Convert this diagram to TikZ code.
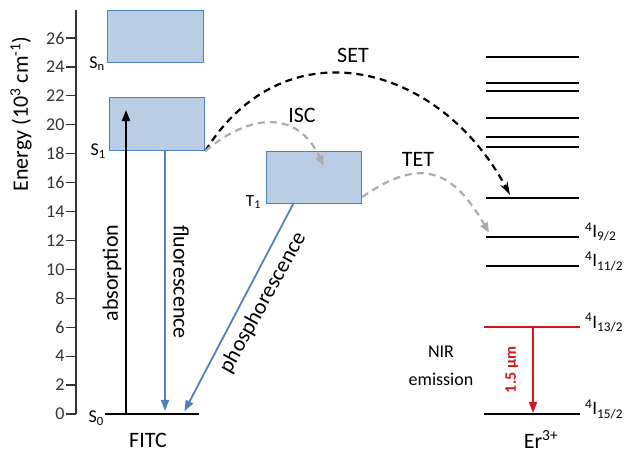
\documentclass[tikz,border=0pt]{standalone}
\usepackage{fontspec}
\setmainfont{Carlito}
\usetikzlibrary{positioning,arrows.meta}
\definecolor{boxFill}{RGB}{185,205,229}
\definecolor{boxEdge}{RGB}{79,129,189}
\definecolor{nirRed}{RGB}{210,22,30}
\definecolor{etGray}{RGB}{172,172,172}
\tikzstyle{tBox} = [rectangle, draw=boxEdge, fill=boxFill, line width=1.3pt, inner sep=0pt, anchor=south west, minimum width=95pt, minimum height=52pt]
\tikzstyle{tLevel} = [line width=2pt]
\tikzstyle{bigText} = [font=\fontsize{22}{26}\selectfont]
\tikzstyle{smallText} = [font=\fontsize{18}{20}\selectfont]
\tikzstyle{termText} = [font=\fontsize{19}{22}\selectfont, anchor=base west, inner sep=0pt]
\tikzstyle{radArrow} = [line width=1.8pt, -{Triangle[length=11pt,width=8pt]}]
\tikzstyle{etArrow} = [line width=2.2pt, dash pattern=on 7pt off 5pt]

\begin{document}
\begin{tikzpicture}[x=1pt, y=14.46pt]
    \useasboundingbox (0,-2.628) rectangle (630,28.63);
    \draw[line width=1.2pt, black!80] (76,0) -- (76,27.94);
    \foreach \e in {0,2,...,26}
        \draw[line width=1.2pt, black!80] (76,\e) -- (66,\e) node[smallText, left, inner sep=1pt] {\e};
    \node[bigText, rotate=90] (EnergyLabel) at (21,20.75) {Energy (10\textsuperscript{3} cm\textsuperscript{-1})};

    \node[tBox, minimum width=96pt] (Sn) at (107,24.27) {};
    \node[tBox, minimum height=53pt] (S1) at (109,18.19) {};
    \node[tBox] (T1) at (266,14.52) {};
    \draw[tLevel] (105,0) coordinate (S0w) -- (199,0) coordinate (S0e);
    \node[smallText, anchor=base east, inner sep=0pt] (SnLabel) at ([shift={(-2pt,-5pt)}]Sn.south west) {S\textsubscript{n}};
    \node[smallText, anchor=base east, inner sep=0pt] (S1Label) at ([shift={(-3pt,-5pt)}]S1.south west) {S\textsubscript{1}};
    \node[smallText, anchor=base east, inner sep=0pt] (S0Label) at ([shift={(-1pt,-9pt)}]S0w) {S\textsubscript{0}};
    \node[font=\fontsize{17}{20}\selectfont, anchor=base east, inner sep=0pt] (T1Label) at ([shift={(-5pt,-2pt)}]T1.south west) {T\textsubscript{1}};
    \node[bigText, inner sep=0pt] (FITC) at (148,-1.80) {FITC};

    \coordinate (AbsFoot) at (126,0);
    \coordinate (AbsTip) at (126,21.02);
    \draw[radArrow] (AbsFoot) -- (AbsTip);
    \coordinate (FluoTop) at ([xshift=56pt]S1.south west);
    \coordinate (FluoFoot) at (FluoTop |- S0w);
    \draw[radArrow, boxEdge, shorten >=3pt] (FluoTop) -- (FluoFoot);
    \draw[radArrow, boxEdge, shorten >=3pt] ([xshift=-21pt]T1.south) -- ([xshift=78pt]S0w);
    \node[bigText, rotate=90, inner sep=0pt] (AbsLabel) at (112,9.75) {absorption};
    \node[bigText, rotate=-90, inner sep=0pt] (FluoLabel) at (181,9.13) {fluorescence};
    \node[bigText, rotate=61, inner sep=0pt] (PhosLabel) at (263,7.7) {phosphorescence};

    \foreach \e [count=\i] in {24.70,22.87,22.36,20.45,19.14,18.49,14.92,12.26,10.25}
        \draw[tLevel] (486,\e) coordinate (Er\i w) -- (579,\e) coordinate (Er\i e);
    \draw[tLevel, nirRed] (484,6.0) coordinate (ErRw) -- (580,6.0) coordinate (ErRe);
    \draw[tLevel] (484,0) coordinate (ErGw) -- (580,0) coordinate (ErGe);
    \node[termText] (I92) at ([shift={(6pt,-1pt)}]Er8e) {\textsuperscript{4}I\textsubscript{9/2}};
    \node[termText] (I112) at ([shift={(6pt,-1pt)}]Er9e) {\textsuperscript{4}I\textsubscript{11/2}};
    \node[termText] (I132) at ([shift={(5pt,-1pt)}]ErRe) {\textsuperscript{4}I\textsubscript{13/2}};
    \node[termText] (I152) at ([shift={(5pt,-1pt)}]ErGe) {\textsuperscript{4}I\textsubscript{15/2}};
    \node[bigText, inner sep=0pt] (ErIon) at (541,-1.75) {Er\textsuperscript{3+}};
    \draw[radArrow, nirRed, shorten >=1pt] ([xshift=49pt]ErRw) -- ([xshift=49pt]ErGw);
    \node[font=\bfseries\fontsize{16}{18}\selectfont, text=nirRed, rotate=90] (NirWave) at (512,3.04) {1.5 μm};
    \node[font=\fontsize{18}{28}\selectfont, align=center] (NirLabel) at (441,3.32) {NIR\\emission};

    \coordinate (SetTip) at ([shift={(24pt,3.3pt)}]Er7w);
    \draw[etArrow, -{Stealth[length=13pt,width=8pt]}] (S1.south east) to[out=58, in=118, looseness=1.25] (SetTip);
    \draw[etArrow, etGray, -{Triangle[length=10pt,width=8pt]}] (S1.south east) to[out=40, in=115, looseness=1.3] ([shift={(9.5pt,-15pt)}]T1.north);
    \draw[etArrow, etGray, -{Triangle[length=10pt,width=8pt]}] ([yshift=7pt]T1.south east) to[out=35, in=120, looseness=1.4] ([shift={(3pt,4pt)}]Er8w);
    \node[bigText] (SetLabel) at (353,24.83) {SET};
    \node[bigText] (IscLabel) at (302,20.64) {ISC};
    \node[bigText] (TetLabel) at (418,17.6) {TET};
\end{tikzpicture}
\end{document}
